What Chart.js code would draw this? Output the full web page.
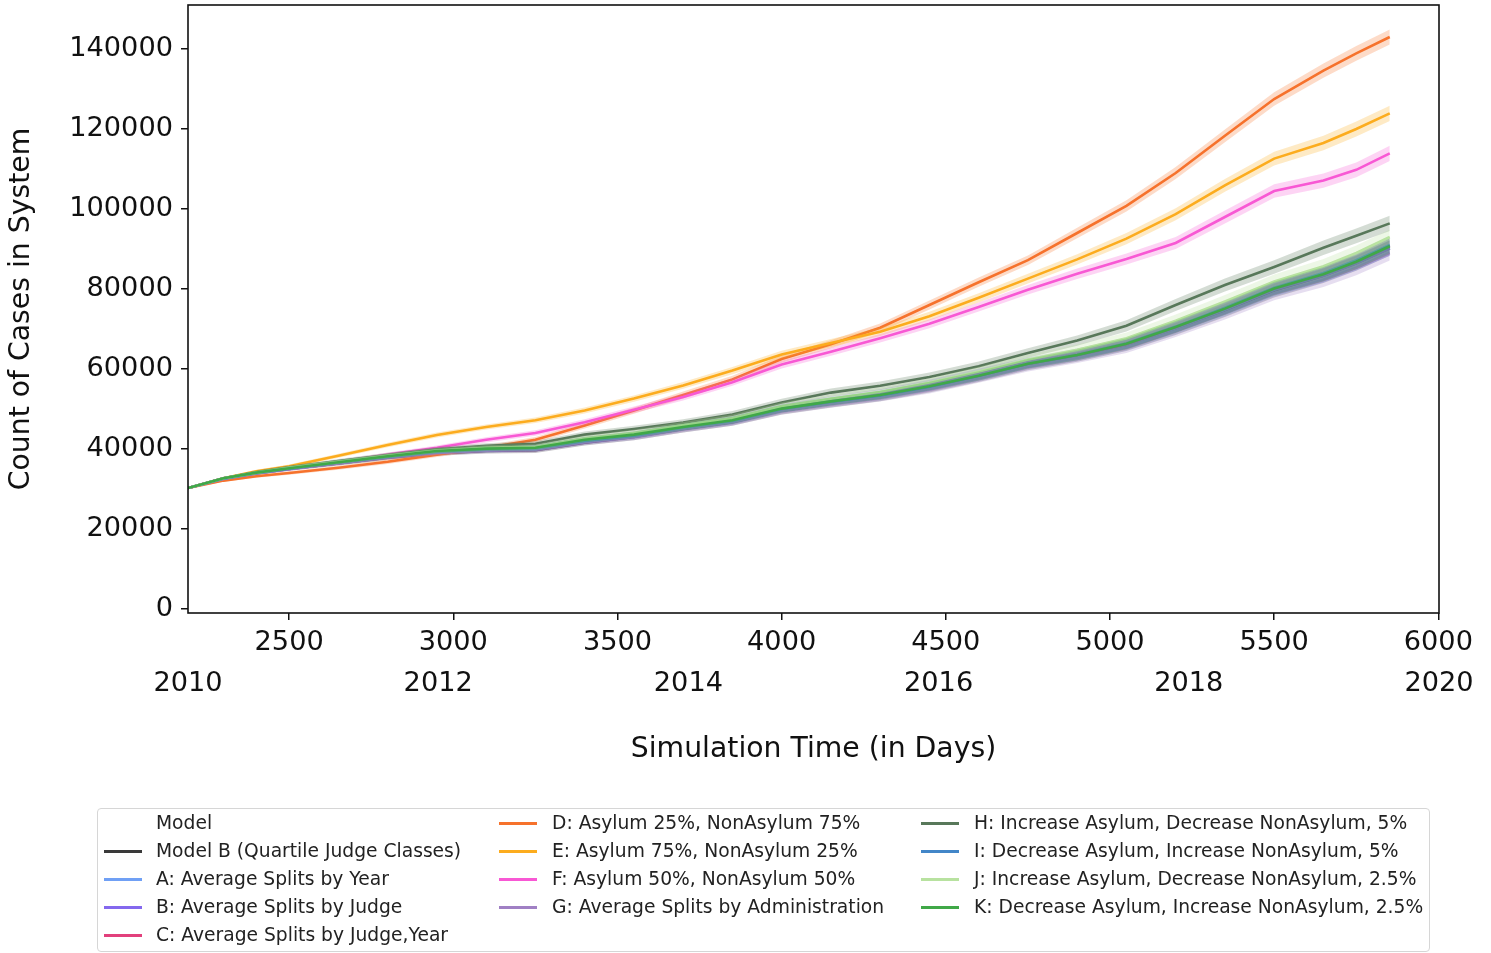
<!DOCTYPE html>
<html>
<head>
<meta charset="utf-8">
<script src="https://cdn.jsdelivr.net/npm/chart.js@4/dist/chart.umd.min.js"></script>
<style>
  html, body { margin: 0; padding: 0; background: #fff; }
  #wrap { position: relative; width: 1491px; height: 953px; overflow: hidden; }
  #chart { position: absolute; left: 0; top: 0; }
  #legend {
    position: absolute; left: 97px; top: 808px; width: 1333px; height: 144px;
    box-sizing: border-box; border: 1px solid #d6d6d6; border-radius: 4px; background: #fff;
    font-family: "DejaVu Sans", sans-serif; font-size: 18.7px; color: #222;
  }
  .entry { position: absolute; height: 28px; line-height: 28px; white-space: nowrap; }
  .handle { position: absolute; height: 3px; }
</style>
</head>
<body>
<div id="wrap">
  <canvas id="chart" width="1491" height="953"></canvas>
  <div id="legend"></div>
</div>
<script>
// Simulation day at each sample
const days = [2192, 2300, 2400, 2500, 2650, 2800, 2950, 3100, 3250, 3400, 3550, 3700, 3850, 4000,
              4150, 4300, 4450, 4600, 4750, 4900, 5050, 5200, 5350, 5500, 5650, 5750, 5852];

const dayTicks = [2500, 3000, 3500, 4000, 4500, 5000, 5500, 6000];
const yearTicks = [2010, 2012, 2014, 2016, 2018, 2020];
const countTicks = [0, 20000, 40000, 60000, 80000, 100000, 120000, 140000];

// Half-width of the confidence band around each mean run
const bandHalfWidth = [200, 300, 400, 450, 500, 550, 600, 650, 700, 750, 800, 850, 900, 950,
                       1000, 1050, 1100, 1150, 1200, 1300, 1400, 1500, 1600, 1700, 1800, 1850, 1900];

// Mean count of cases in system per scenario
const modelB = [30250, 32500, 33900, 35000, 36400, 37800, 38900, 39500, 39700, 41600, 43000, 45000, 46700, 49600,
                51400, 53000, 55200, 57900, 60900, 63100, 65900, 70000, 74600, 79600, 83300, 86400, 90200];
const splitsYear = [30250, 32600, 34000, 35100, 36600, 38000, 39200, 39800, 40000, 41900, 43200, 45200, 46900, 49800,
                    51600, 53200, 55400, 58100, 61100, 63300, 66000, 70200, 74800, 79800, 83400, 86500, 90300];
const splitsJudge = [30250, 32700, 34100, 35200, 36800, 38200, 39500, 40100, 40300, 42200, 43600, 45700, 47400, 50300,
                     52200, 53900, 56200, 58900, 61700, 63800, 66500, 70600, 75100, 80000, 83500, 86600, 90200];
const splitsJudgeYear = [30250, 32600, 34000, 35100, 36600, 38000, 39300, 39900, 40100, 42000, 43300, 45300, 47000, 49900,
                         51700, 53300, 55500, 58200, 61200, 63400, 66200, 70500, 75200, 80200, 83800, 86900, 90800];
const asylum25 = [30250, 32100, 33200, 34000, 35300, 36800, 38600, 40300, 42300, 45900, 49600, 53500, 57400, 62500,
                  66200, 70300, 76000, 81700, 87200, 94000, 100800, 109000, 118300, 127500, 134600, 138900, 143000];
const asylum75 = [30250, 32700, 34400, 35700, 38300, 41000, 43500, 45500, 47200, 49600, 52600, 55900, 59600, 63600,
                  66500, 69300, 73200, 77800, 82600, 87400, 92600, 98700, 105900, 112600, 116500, 120000, 123900];
const asylum50 = [30250, 32700, 34000, 35000, 36700, 38600, 40300, 42300, 44000, 46700, 49800, 53000, 56700, 61100,
                  64300, 67700, 71300, 75500, 79800, 83800, 87500, 91500, 98000, 104500, 107100, 109800, 113900];
const splitsAdmin = [30250, 32500, 33900, 35000, 36400, 37900, 39000, 39600, 39800, 41700, 43000, 45000, 46700, 49500,
                     51300, 52900, 55000, 57700, 60600, 62800, 65400, 69500, 74000, 78900, 82300, 85300, 89000];
const incAsylum5 = [30250, 32700, 34200, 35400, 37000, 38500, 39900, 40800, 41300, 43600, 45000, 46600, 48600, 51600,
                    54100, 55800, 58000, 60700, 64000, 67100, 70800, 76000, 81000, 85500, 90300, 93300, 96400];
const decAsylum5 = [30250, 32600, 34000, 35100, 36700, 38100, 39400, 40000, 40200, 42100, 43400, 45400, 47100, 50000,
                    51800, 53400, 55600, 58300, 61300, 63500, 66400, 70600, 75300, 80300, 84000, 87200, 91000];
const incAsylum25 = [30250, 32700, 34100, 35300, 36800, 38300, 39600, 40300, 40500, 42600, 44000, 45900, 47700, 50700,
                     52600, 54300, 56600, 59400, 62400, 64800, 67700, 72100, 76900, 81900, 85700, 89000, 93000];
const decAsylum25 = [30250, 32700, 34100, 35200, 36700, 38200, 39500, 40100, 40300, 42300, 43600, 45500, 47200, 50100,
                     51900, 53500, 55700, 58300, 61300, 63500, 66300, 70500, 75100, 80100, 83700, 86800, 90700];

const seriesNames = [
  "Model B (Quartile Judge Classes)",
  "A: Average Splits by Year",
  "B: Average Splits by Judge",
  "C: Average Splits by Judge,Year",
  "D: Asylum 25%, NonAsylum 75%",
  "E: Asylum 75%, NonAsylum 25%",
  "F: Asylum 50%, NonAsylum 50%",
  "G: Average Splits by Administration",
  "H: Increase Asylum, Decrease NonAsylum, 5%",
  "I: Decrease Asylum, Increase NonAsylum, 5%",
  "J: Increase Asylum, Decrease NonAsylum, 2.5%",
  "K: Decrease Asylum, Increase NonAsylum, 2.5%"
];
const seriesColors = [
  [58, 58, 58], [112, 160, 245], [132, 104, 238], [226, 64, 124],
  [246, 114, 44], [252, 172, 30], [248, 88, 212], [160, 128, 196],
  [88, 120, 90], [66, 134, 200], [184, 226, 160], [64, 168, 72]
];
const seriesValues = [modelB, splitsYear, splitsJudge, splitsJudgeYear, asylum25, asylum75, asylum50,
                      splitsAdmin, incAsylum5, decAsylum5, incAsylum25, decAsylum25];

const rgba = (c, a) => `rgba(${c[0]},${c[1]},${c[2]},${a})`;

// Each scenario: upper band edge, lower band edge filled to it, then the mean line.
const datasets = [];
const total = seriesValues.length * 3;
seriesValues.forEach((vals, i) => {
  const col = seriesColors[i];
  const upper = days.map((d, k) => ({ x: d, y: vals[k] + bandHalfWidth[k] }));
  const lower = days.map((d, k) => ({ x: d, y: vals[k] - bandHalfWidth[k] }));
  const mean = days.map((d, k) => ({ x: d, y: vals[k] }));
  datasets.push({ label: seriesNames[i] + " upper", data: upper, borderWidth: 0, borderColor: 'rgba(0,0,0,0)',
                  pointRadius: 0, fill: false, order: total - datasets.length });
  datasets.push({ label: seriesNames[i] + " lower", data: lower, borderWidth: 0, borderColor: 'rgba(0,0,0,0)',
                  pointRadius: 0, fill: '-1', backgroundColor: rgba(col, 0.26), order: total - datasets.length });
  datasets.push({ label: seriesNames[i], data: mean, borderWidth: 2.6, borderColor: rgba(col, 1),
                  pointRadius: 0, fill: false, tension: 0, order: total - datasets.length });
});

const FONT = "DejaVu Sans";
const tickFont = { family: FONT, size: 27.2 };
const titleFont = { family: FONT, size: 28.3 };

// Full box frame around the plotting area
const framePlugin = {
  id: 'frame',
  afterDatasetsDraw(chart) {
    const { ctx, chartArea: a } = chart;
    ctx.save();
    ctx.strokeStyle = '#111';
    ctx.lineWidth = 1.6;
    ctx.strokeRect(a.left, a.top, a.right - a.left, a.bottom - a.top);
    ctx.restore();
  }
};

const noPad = s => { s.paddingTop = 0; s.paddingBottom = 0; s.paddingLeft = 0; s.paddingRight = 0; };

new Chart(document.getElementById('chart'), {
  type: 'line',
  data: { datasets },
  plugins: [framePlugin],
  options: {
    responsive: false,
    animation: false,
    devicePixelRatio: 1,
    layout: { padding: { top: 5, right: 52, bottom: 180, left: 0 } },
    plugins: { legend: { display: false }, tooltip: { enabled: false }, title: { display: false } },
    scales: {
      x: {
        type: 'linear', position: 'bottom', weight: 0,
        min: 2192, max: 6002,
        afterBuildTicks: s => { s.ticks = dayTicks.map(v => ({ value: v })); },
        ticks: { font: tickFont, color: '#111', padding: 7, maxRotation: 0, autoSkip: false,
                 callback: v => String(v) },
        grid: { display: true, drawOnChartArea: false, drawTicks: true, tickLength: 7, color: '#111', lineWidth: 1.5 },
        border: { display: false },
        afterFit: s => { s.height = 45; noPad(s); }
      },
      years: {
        type: 'linear', position: 'bottom', weight: 1,
        min: 2010, max: 2020,
        afterBuildTicks: s => { s.ticks = yearTicks.map(v => ({ value: v })); },
        ticks: { font: tickFont, color: '#111', padding: 10, maxRotation: 0, autoSkip: false,
                 callback: v => String(v) },
        grid: { display: false, drawTicks: false },
        border: { display: false },
        title: { display: true, text: 'Simulation Time (in Days)', font: titleFont, color: '#111',
                 padding: { top: 0, bottom: 6 } },
        afterFit: s => { s.height = 115; noPad(s); }
      },
      y: {
        type: 'linear', position: 'left',
        min: -1000, max: 151000,
        afterBuildTicks: s => { s.ticks = countTicks.map(v => ({ value: v })); },
        ticks: { font: tickFont, color: '#111', padding: 8, callback: v => String(v) },
        grid: { display: true, drawOnChartArea: false, drawTicks: true, tickLength: 7, color: '#111', lineWidth: 1.5 },
        border: { display: false },
        title: { display: true, text: 'Count of Cases in System', font: titleFont, color: '#111',
                 padding: { top: 5, bottom: 0 } },
        afterFit: s => { s.width = 188; noPad(s); }
      }
    }
  }
});

// Legend: three columns, filled top to bottom
const legendEl = document.getElementById('legend');
const legendItems = [{ name: "Model", color: null }].concat(
  seriesNames.map((n, i) => ({ name: n, color: seriesColors[i] })));
const colText = [58, 454, 876];
const colHandle = [6, 401, 823];
const colSizes = [5, 4, 4];
let idx = 0;
colSizes.forEach((size, c) => {
  for (let r = 0; r < size; r++, idx++) {
    const item = legendItems[idx];
    const top = r * 28;
    if (item.color) {
      const h = document.createElement('div');
      h.className = 'handle';
      h.style.left = colHandle[c] + 'px';
      h.style.top = (top + 12.5) + 'px';
      h.style.width = '38px';
      h.style.background = rgba(item.color, 1);
      legendEl.appendChild(h);
    }
    const t = document.createElement('div');
    t.className = 'entry';
    t.style.left = colText[c] + 'px';
    t.style.top = top + 'px';
    t.textContent = item.name;
    legendEl.appendChild(t);
  }
});
</script>
</body>
</html>
